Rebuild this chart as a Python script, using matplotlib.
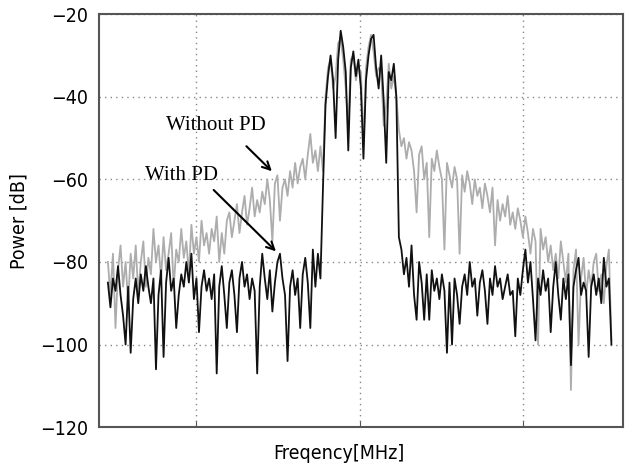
import numpy as np
import matplotlib
matplotlib.use("Agg")
import matplotlib.pyplot as plt

# spectrum, 200 bins across the span
freq = np.linspace(-3.08, 3.08, 200)  # MHz, relative to carrier

with_pd = [
    -85, -91, -84, -87, -81, -88, -93, -100, -86, -102,
    -89, -84, -90, -83, -87, -81, -86, -90, -84, -106,
    -88, -82, -103, -85, -79, -87, -84, -96, -88, -83,
    -86, -80, -85, -78, -89, -84, -97, -86, -82, -87,
    -84, -89, -83, -107, -86, -81, -88, -96, -85, -82,
    -88, -97, -84, -80, -86, -83, -89, -84, -87, -107,
    -86, -78, -84, -89, -82, -92, -85, -80, -78, -84,
    -88, -104, -86, -82, -88, -84, -96, -83, -79, -85,
    -96, -77, -86, -78, -84, -62, -42, -35, -30, -36,
    -50, -31, -24, -28, -34, -53, -33, -29, -35, -31,
    -38, -55, -36, -30, -26, -25, -33, -38, -30, -41,
    -56, -34, -36, -32, -40, -74, -77, -83, -79, -86,
    -76, -88, -94, -80, -85, -94, -83, -94, -82, -87,
    -84, -89, -83, -87, -102, -85, -100, -84, -88, -95,
    -86, -83, -88, -80, -86, -84, -93, -85, -82, -87,
    -95, -84, -88, -81, -86, -84, -89, -86, -83, -88,
    -87, -98, -84, -88, -82, -77, -85, -80, -89, -99,
    -84, -88, -82, -87, -84, -97, -86, -80, -88, -94,
    -84, -89, -83, -105, -86, -82, -79, -88, -85, -87,
    -103, -86, -83, -88, -84, -90, -79, -86, -84, -100,
]

without_pd = [
    -80, -88, -78, -96, -82, -76, -86, -80, -90, -78,
    -84, -76, -88, -80, -75, -86, -79, -83, -72, -80,
    -76, -84, -74, -82, -78, -73, -86, -77, -80, -72,
    -79, -75, -83, -71, -78, -74, -80, -70, -76, -73,
    -78, -72, -75, -69, -80, -73, -78, -70, -68, -74,
    -70, -66, -73, -68, -64, -71, -67, -62, -69, -65,
    -68, -63, -66, -60, -65, -75, -61, -59, -70, -62,
    -60, -64, -58, -62, -56, -61, -57, -55, -60, -54,
    -49, -56, -53, -58, -52, -58, -40, -33, -31, -38,
    -35, -27, -26, -31, -38, -48, -31, -30, -36, -33,
    -34, -52, -33, -28, -25, -29, -35, -33, -34, -47,
    -42, -32, -38, -35, -40, -48, -52, -50, -55, -51,
    -53, -58, -68, -54, -52, -60, -56, -74, -55, -58,
    -53, -57, -60, -77, -56, -59, -62, -57, -60, -78,
    -59, -63, -58, -61, -66, -60, -64, -62, -67, -61,
    -64, -68, -62, -76, -65, -70, -66, -69, -64, -71,
    -68, -72, -67, -70, -74, -69, -73, -78, -72, -75,
    -100, -72, -77, -74, -80, -76, -82, -78, -84, -75,
    -80, -85, -78, -111, -82, -77, -100, -84, -79, -88,
    -82, -86, -80, -78, -87, -83, -90, -81, -77, -99,
]

y_ticks = [-120, -100, -80, -60, -40, -20]
x_ticks = [-2, 0, 2]

plt.rcParams['font.family'] = ['DejaVu Sans']
plt.rcParams['font.stretch'] = 'condensed'

fig = plt.figure(figsize=(6.26, 4.73), dpi=100)
ax = fig.add_axes([0.158, 0.097, 0.837, 0.873])

ax.plot(freq, without_pd, color='#adadad', lw=1.3)
ax.plot(freq, with_pd, color='#111111', lw=1.3)

ax.set_xlim(-3.19, 3.22)
ax.set_ylim(-120, -20)
ax.set_yticks(y_ticks)
ax.set_xticks(x_ticks)
ax.set_xticklabels([])
ax.tick_params(axis='y', length=0, labelsize=14, pad=8)
ax.tick_params(axis='x', direction='in', length=4, color='#555555')
ax.grid(True, linestyle=(0, (1, 3)), color='#888888', lw=1)
for s in ax.spines.values():
    s.set_color('#555555')
    s.set_linewidth(1.5)

ax.set_ylabel('Power [dB]', fontsize=14, labelpad=8)
fig.text(0.541, 0.022, 'Freqency[MHz]', fontsize=14, ha='center', va='bottom')

# annotations
ax.text(-1.76, -46.9, 'Without PD', family='Liberation Serif', fontsize=15,
        ha='center', va='center')
ax.text(-2.18, -59.0, 'With PD', family='Liberation Serif', fontsize=15,
        ha='center', va='center')
ax.annotate('', xy=(-1.05, -58.5), xytext=(-1.41, -51.5),
            arrowprops=dict(arrowstyle='->', color='black', lw=1.5,
                            mutation_scale=14))
ax.annotate('', xy=(-1.0, -77.9), xytext=(-1.81, -62.1),
            arrowprops=dict(arrowstyle='->', color='black', lw=1.5,
                            mutation_scale=14))

fig.savefig('out.png', dpi=100)
